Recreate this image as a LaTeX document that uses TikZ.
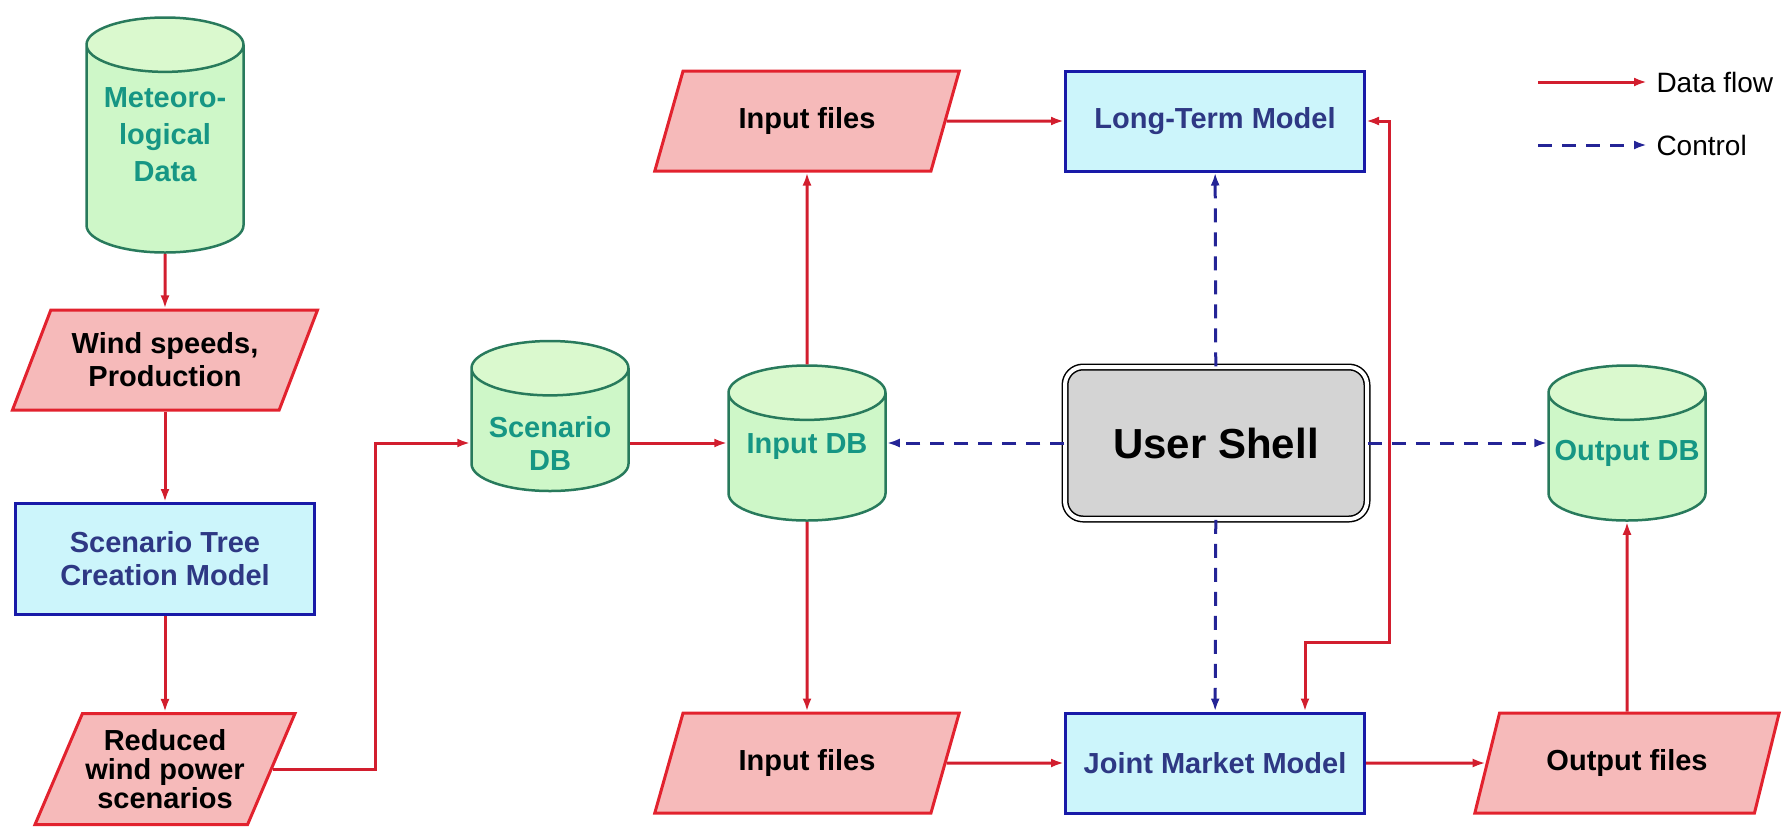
\documentclass[tikz,border=0pt]{standalone}
\usepackage{fontspec}
\setmainfont{Liberation Sans}
\usetikzlibrary{positioning, calc, arrows.meta, shapes.geometric}
\definecolor{cDb}{RGB}{206,247,200}
\definecolor{cDbTop}{RGB}{218,249,206}
\definecolor{cDbEdge}{RGB}{40,122,92}
\definecolor{cDbText}{RGB}{22,150,132}
\definecolor{cFile}{RGB}{246,186,186}
\definecolor{cFileEdge}{RGB}{226,34,46}
\definecolor{cModel}{RGB}{204,245,251}
\definecolor{cModelEdge}{RGB}{24,26,168}
\definecolor{cModelText}{RGB}{46,56,132}
\definecolor{cShell}{RGB}{212,212,212}
\definecolor{cFlow}{RGB}{210,30,46}
\definecolor{cCtrl}{RGB}{36,36,150}
\tikzset{flowtip/.tip={Latex[length=13pt, width=9pt]}}

\begin{document}
\begin{tikzpicture}[x=1pt, y=-1pt, font=\fontsize{29}{33}\selectfont\bfseries,
    dbase/.style={cylinder, shape border rotate=90, aspect=0.36, draw=cDbEdge, line width=2.5pt, cylinder uses custom fill, cylinder body fill=cDb, cylinder end fill=cDbTop, text width=151pt, minimum width=157pt, minimum height=155pt, inner sep=0pt, anchor=shape center},
    dbtext/.style={text=cDbText, align=center, inner sep=0pt},
    files/.style={trapezium, trapezium left angle=60, trapezium right angle=120, trapezium stretches=true, draw=cFileEdge, fill=cFile, line width=3pt, align=center, minimum width=305pt, minimum height=100pt, inner sep=0pt},
    model/.style={rectangle, draw=cModelEdge, fill=cModel, line width=3pt, text=cModelText, align=center, minimum width=299pt, minimum height=100pt},
    flow/.style={draw=cFlow, line width=3pt, -flowtip},
    ctrl/.style={draw=cCtrl, line width=3pt, dash pattern=on 14pt off 10pt, -flowtip}
]
    \useasboundingbox (0,0) rectangle (1782,831);

    % Wind data chain on the left
    \node[dbase, minimum height=235pt] (met) at (165,135) {};
    \node[dbtext, font=\fontsize{29}{37}\selectfont\bfseries] (metText) at (met.shape center) {Meteoro-\\logical\\Data};
    \node[files, minimum width=306pt] (wind) at (165,360) {Wind speeds,\\Production};
    \node[model, minimum height=111pt] (tree) at (165,559) {Scenario Tree\\Creation Model};
    \node[files, minimum width=260pt, minimum height=111pt, font=\fontsize{29}{29}\selectfont\bfseries] (reduced) at (165,769) {Reduced\\wind power\\scenarios};

    % Databases
    \node[dbase, minimum height=150pt] (scen) at (550,416) {};
    \node[dbtext] (scenText) at ([yshift=-27pt]scen.shape center) {Scenario\\DB};
    \node[dbase] (indb) at (807,443) {};
    \node[dbtext] (indbText) at ([yshift=-4pt]indb.shape center) {Input DB};
    \node[dbase] (outdb) at (1627,443) {};
    \node[dbtext] (outdbText) at ([yshift=-10pt]outdb.shape center) {Output DB};

    % Input and output files
    \node[files] (inTop) at (807,121) {Input files};
    \node[files] (inBot) at (807,763) {Input files};
    \node[files] (outF) at (1627,763) {Output files};

    % Models and the user shell
    \node[model] (lt) at (1215,121) {Long-Term Model};
    \node[model] (jm) at (1215,763) {Joint Market Model};
    \node[draw=black, line width=1.5pt, double=white, double distance=4pt, rounded corners=18pt, fill=cShell, minimum width=302pt, minimum height=152pt, font=\fontsize{42}{48}\selectfont\bfseries] (shell) at (1216,443) {User Shell};

    % Data flow
    \coordinate (bendA) at (375,443);
    \coordinate (bendB) at (1389,642);
    \draw[flow] (met) -- (wind);
    \draw[flow] (wind) -- (tree);
    \draw[flow] (tree) -- (reduced);
    \draw[flow] (reduced.east) -| (bendA) -- (bendA -| scen.west);
    \draw[flow] (bendA -| scen.east) -- (bendA -| indb.west);
    \draw[flow] (indb) -- (inTop);
    \draw[flow] (indb) -- (inBot);
    \draw[flow] (inTop) -- (lt);
    \draw[flow] (inBot) -- (jm);
    \draw[flow] (jm) -- (outF);
    \draw[flow] (outF) -- (outdb);
    \draw[flow, flowtip-flowtip] (lt.east) -| (bendB) -| ([xshift=90pt]jm.north);

    % Control
    \draw[ctrl] (shell) -- (lt);
    \draw[ctrl] (shell) -- (jm);
    \draw[ctrl] (shell.west) -- (shell.west -| indb.east);
    \draw[ctrl] (shell.east) -- (shell.east -| outdb.west);

    % Legend
    \coordinate (lgA) at (1538,82);
    \coordinate (lgB) at (1538,145);
    \draw[flow] (lgA) -- ++(109,0) node[right, inner sep=8pt, font=\fontsize{28}{32}\selectfont] (lgData) {Data flow};
    \draw[ctrl] (lgB) -- ++(109,0) node[right, inner sep=8pt, font=\fontsize{28}{32}\selectfont] (lgCtrl) {Control};
\end{tikzpicture}
\end{document}
